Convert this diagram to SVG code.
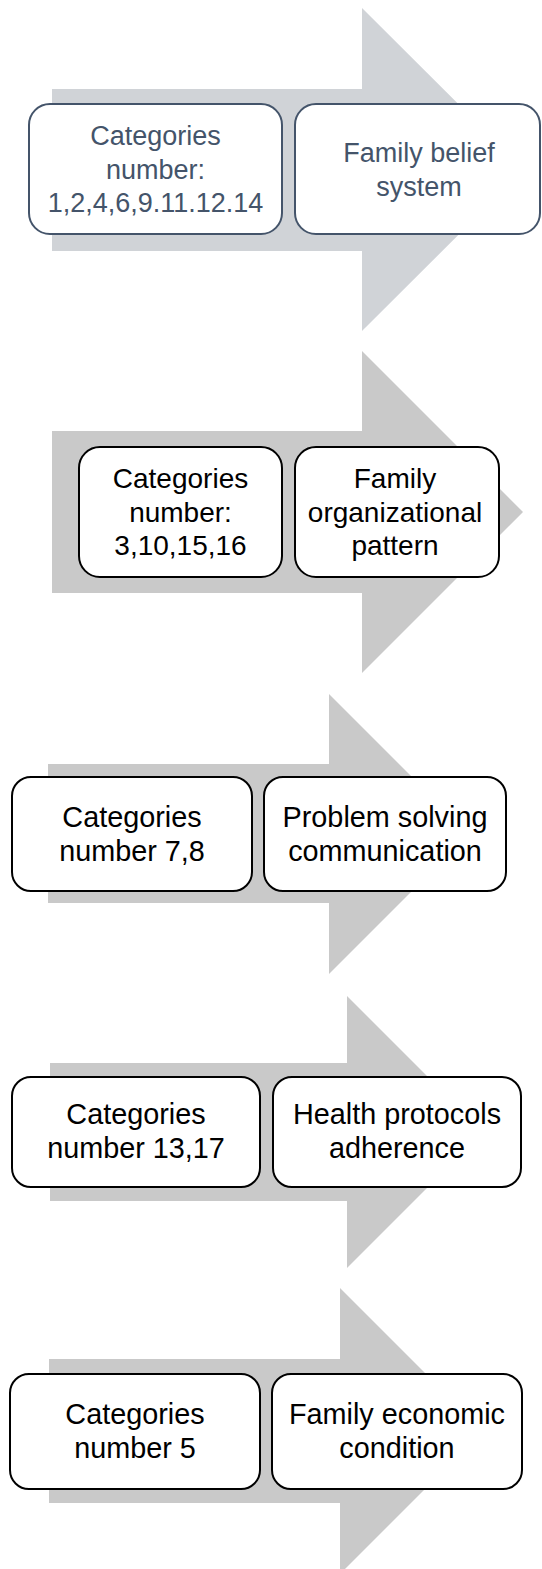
<svg xmlns="http://www.w3.org/2000/svg" width="542" height="1569" viewBox="0 0 542 1569">
<style>
.bg{fill:#ffffff}
.a1{fill:#d0d3d7}
.ag{fill:#c9c9c9}
.b1{fill:#ffffff;stroke:#44546a;stroke-width:2}
.bk{fill:#ffffff;stroke:#000000;stroke-width:2}
.t1{font-family:"Liberation Sans",Arial,sans-serif;font-size:27px;fill:#44546a;text-anchor:middle}
.tk{font-family:"Liberation Sans",Arial,sans-serif;font-size:28.8px;fill:#000000;text-anchor:middle}
.t2{font-size:28px}
</style>
<rect class="bg" x="0" y="0" width="542" height="1569"/>
<g id="connectors">
<path id="arrow1" class="a1" d="M52,89 H362 V8 L524,169.5 L362,331 V251 H52 Z"/>
<path id="arrow2" class="ag" d="M52,431 H362 V351 L523,512 L362,673 V593 H52 Z"/>
<path id="arrow3" class="ag" d="M48,764 H329 V694 L469,834 L329,974 V903 H48 Z"/>
<path id="arrow4" class="ag" d="M50,1063 H347 V996 L483,1132 L347,1268 V1201 H50 Z"/>
<path id="arrow5" class="ag" d="M49,1359 H340 V1288 L483,1431 L340,1574 V1503 H49 Z"/>
</g>
<g id="node1a">
<rect class="b1" x="29" y="104" width="253" height="130" rx="21"/>
<text class="t1" x="155.5" y="145">Categories</text>
<text class="t1" x="155.5" y="178.5">number:</text>
<text class="t1" x="155.5" y="212">1,2,4,6,9.11.12.14</text>
</g>
<g id="node1b">
<rect class="b1" x="295" y="104" width="245" height="130" rx="21"/>
<text class="t1" x="419" y="162">Family belief</text>
<text class="t1" x="419" y="195.5">system</text>
</g>
<g id="node2a">
<rect class="bk" x="79" y="447" width="203" height="130" rx="21"/>
<text class="tk t2" x="180.5" y="488">Categories</text>
<text class="tk t2" x="180.5" y="521.5">number:</text>
<text class="tk t2" x="180.5" y="555">3,10,15,16</text>
</g>
<g id="node2b">
<rect class="bk" x="295" y="447" width="204" height="130" rx="21"/>
<text class="tk t2" x="395" y="488">Family</text>
<text class="tk t2" x="395" y="521.5">organizational</text>
<text class="tk t2" x="395" y="555">pattern</text>
</g>
<g id="node3a">
<rect class="bk" x="12" y="777" width="240" height="114" rx="19"/>
<text class="tk" x="132" y="826.5">Categories</text>
<text class="tk" x="132" y="860.5">number 7,8</text>
</g>
<g id="node3b">
<rect class="bk" x="264" y="777" width="242" height="114" rx="19"/>
<text class="tk" x="385" y="826.5">Problem solving</text>
<text class="tk" x="385" y="860.5">communication</text>
</g>
<g id="node4a">
<rect class="bk" x="12" y="1077" width="248" height="110" rx="19"/>
<text class="tk" x="136" y="1124">Categories</text>
<text class="tk" x="136" y="1158">number 13,17</text>
</g>
<g id="node4b">
<rect class="bk" x="273" y="1077" width="248" height="110" rx="19"/>
<text class="tk" x="397" y="1124">Health protocols</text>
<text class="tk" x="397" y="1158">adherence</text>
</g>
<g id="node5a">
<rect class="bk" x="10" y="1374" width="250" height="115" rx="19"/>
<text class="tk" x="135" y="1424">Categories</text>
<text class="tk" x="135" y="1458">number 5</text>
</g>
<g id="node5b">
<rect class="bk" x="272" y="1374" width="250" height="115" rx="19"/>
<text class="tk" x="397" y="1424">Family economic</text>
<text class="tk" x="397" y="1458">condition</text>
</g>
</svg>
